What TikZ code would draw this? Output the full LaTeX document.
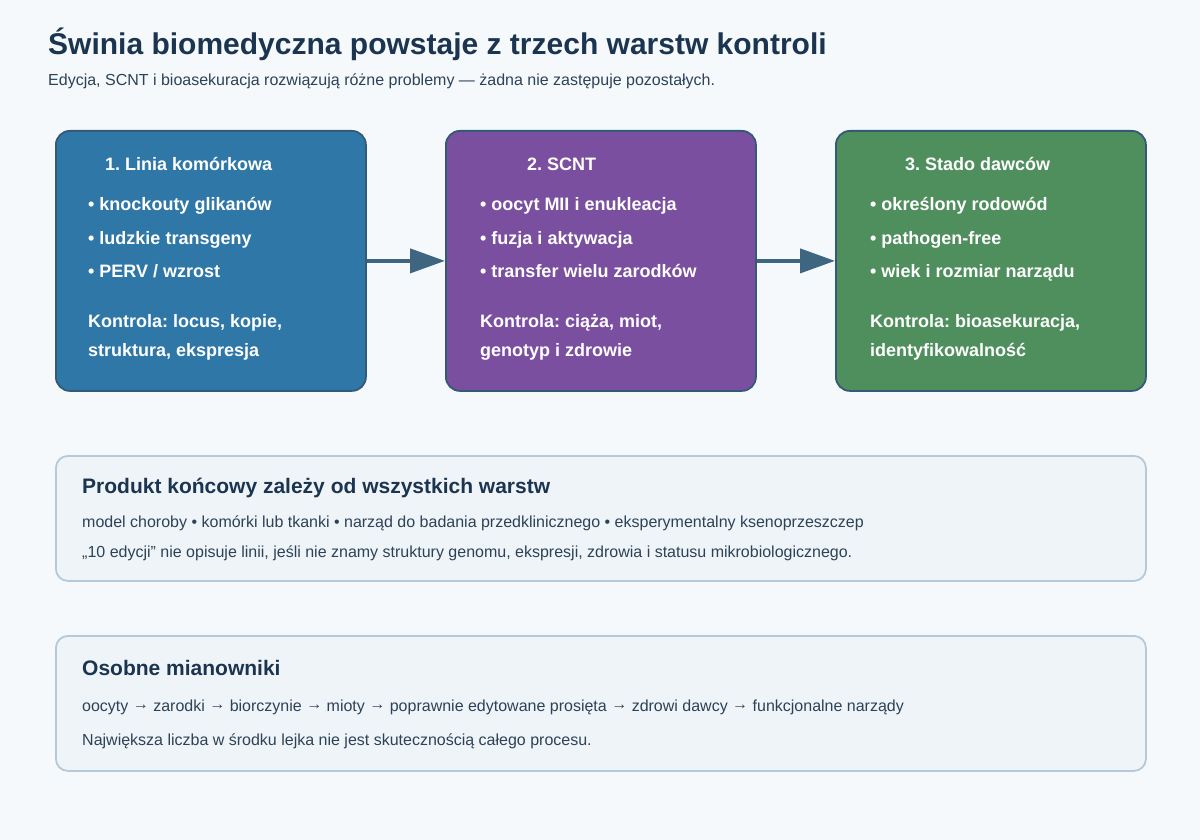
\documentclass[tikz,border=0pt]{standalone}
\usepackage{fontspec}
\setmainfont{Liberation Sans}
\usetikzlibrary{arrows.meta}
\frenchspacing
\definecolor{bg}{HTML}{F5F9FC}
\definecolor{navy}{HTML}{1B3550}
\definecolor{bodytxt}{HTML}{2D4257}
\definecolor{bluef}{HTML}{2E77A6}
\definecolor{purplef}{HTML}{7A4F9F}
\definecolor{greenf}{HTML}{4F8E5D}
\definecolor{edgec}{HTML}{355A78}
\definecolor{arrc}{HTML}{3E6680}
\definecolor{panelf}{HTML}{EFF4F8}
\definecolor{paneld}{HTML}{B6C9D9}
\newcommand{\rarr}{\raisebox{1.5pt}{→}}
\tikzset{
  layer/.style={draw=edgec, line width=1.8pt, rounded corners=14pt, minimum width=310pt, minimum height=260pt, anchor=north west, inner sep=0pt},
  panel/.style={draw=paneld, fill=panelf, line width=1.8pt, rounded corners=12pt, minimum width=1090pt, anchor=north west, inner sep=0pt},
  wtxt/.style={anchor=base west, inner sep=0pt, text=white, font=\bfseries\fontsize{18}{22}\selectfont},
  body/.style={anchor=base west, inner sep=0pt, text=bodytxt, font=\fontsize{16}{20}\selectfont},
  phead/.style={anchor=base west, inner sep=0pt, text=navy, font=\bfseries\fontsize{21}{25}\selectfont},
  flow/.style={draw=arrc, line width=4pt, -{Triangle[length=35pt,width=24pt]}},
}
\begin{document}
\begin{tikzpicture}[x=1pt,y=-1pt]
\useasboundingbox (0,0) rectangle (1200,840);
\fill[bg] (0,0) rectangle (1200,840);
\node[anchor=base west, inner sep=0pt, text=navy, font=\bfseries\fontsize{30}{36}\selectfont] (title) at (48,55) {Świnia biomedyczna powstaje z trzech warstw kontroli};
\node[body] (sub) at (48,86) {Edycja, SCNT i bioasekuracja rozwiązują różne problemy — żadna nie zastępuje pozostałych.};

\node[layer, fill=bluef] (b1) at (55,130) {};
\node[layer, fill=purplef] (b2) at (445,130) {};
\node[layer, fill=greenf] (b3) at (835,130) {};

\draw[flow] (b1.east) -- (b2.west);
\draw[flow] (b2.east) -- (b3.west);

\node[wtxt] (h1) at (105,171) {1. Linia komórkowa};
\node[wtxt] (p11) at (88,211) {• knockouty glikanów};
\node[wtxt] (p12) at (88,244) {• ludzkie transgeny};
\node[wtxt] (p13) at (88,277) {• PERV / wzrost};
\node[wtxt] (k11) at (88,327) {Kontrola: locus, kopie,};
\node[wtxt] (k12) at (88,356) {struktura, ekspresja};

\node[wtxt] (h2) at (527,171) {2. SCNT};
\node[wtxt] (p21) at (480,211) {• oocyt MII i enukleacja};
\node[wtxt] (p22) at (480,244) {• fuzja i aktywacja};
\node[wtxt] (p23) at (480,277) {• transfer wielu zarodków};
\node[wtxt] (k21) at (480,327) {Kontrola: ciąża, miot,};
\node[wtxt] (k22) at (480,356) {genotyp i zdrowie};

\node[wtxt] (h3) at (905,171) {3. Stado dawców};
\node[wtxt] (p31) at (870,211) {• określony rodowód};
\node[wtxt] (p32) at (870,244) {• pathogen-free};
\node[wtxt] (p33) at (870,277) {• wiek i rozmiar narządu};
\node[wtxt] (k31) at (870,327) {Kontrola: bioasekuracja,};
\node[wtxt] (k32) at (870,356) {identyfikowalność};

\node[panel, minimum height=125pt] (pa) at (55,455) {};
\node[phead] (pah) at (82,493) {Produkt końcowy zależy od wszystkich warstw};
\node[body] (pa1) at (82,527) {model choroby • komórki lub tkanki • narząd do badania przedklinicznego • eksperymentalny ksenoprzeszczep};
\node[body] (pa2) at (82,557) {„10 edycji” nie opisuje linii, jeśli nie znamy struktury genomu, ekspresji, zdrowia i statusu mikrobiologicznego.};

\node[panel, minimum height=135pt] (pb) at (55,635) {};
\node[phead] (pbh) at (82,675) {Osobne mianowniki};
\node[body] (pb1) at (82,711) {oocyty \rarr{} zarodki \rarr{} biorczynie \rarr{} mioty \rarr{} poprawnie edytowane prosięta \rarr{} zdrowi dawcy \rarr{} funkcjonalne narządy};
\node[body] (pb2) at (82,745) {Największa liczba w środku lejka nie jest skutecznością całego procesu.};
\end{tikzpicture}
\end{document}
